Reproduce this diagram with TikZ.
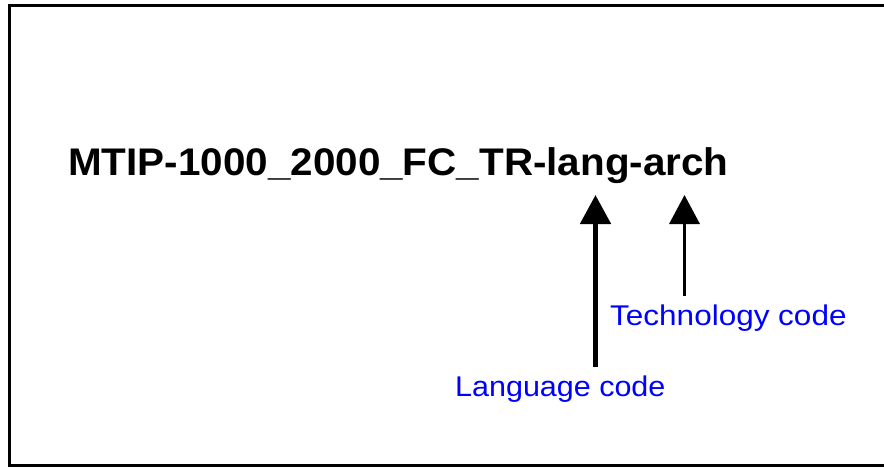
\documentclass[tikz,border=0pt]{standalone}
\usepackage{fontspec}
\setmainfont{Liberation Sans}
\newfontfamily\titlefont[FakeStretch=1.05]{Liberation Sans}
\newfontfamily\langfont[FakeStretch=1.07]{Liberation Sans}
\newfontfamily\techfont[FakeStretch=1.105]{Liberation Sans}
\usetikzlibrary{arrows.meta}
\begin{document}
\begin{tikzpicture}[x=1pt,y=-1pt,
  frame/.style={draw=black,line width=3pt},
  title/.style={anchor=base west,inner sep=0pt,font=\titlefont\bfseries\fontsize{38.5}{40}\selectfont},
  codelabel/.style={anchor=base west,inner sep=0pt,text=blue},
  pointer/.style={draw=black,-{Triangle[length=29pt,width=30pt]}}
]
\useasboundingbox (0,0) rectangle (884,467);
% outer frame, open on the right where it runs off the page
\draw[frame] (895,5) -- (9,5) -- (9,465.5) -- (895,465.5);

% file name pattern
\node[title] (name) at (68,175) {MTIP-1000\_2000\_FC\_TR-lang-arch};

% field labels
\node[codelabel,font=\techfont\fontsize{28.5}{30}\selectfont] (tech) at (610,325) {Technology code};
\node[codelabel,font=\langfont\fontsize{28.5}{30}\selectfont] (lang) at (455,396) {Language code};

% arrow ends
\coordinate (langtail) at (595.5,367);
\coordinate (langtip) at (595.5,195);
\coordinate (techtail) at (684.5,296);
\coordinate (techtip) at (684.5,195);

\draw[pointer,line width=5pt] (langtail) -- (langtip);
\draw[pointer,line width=3.5pt] (techtail) -- (techtip);
\end{tikzpicture}
\end{document}
